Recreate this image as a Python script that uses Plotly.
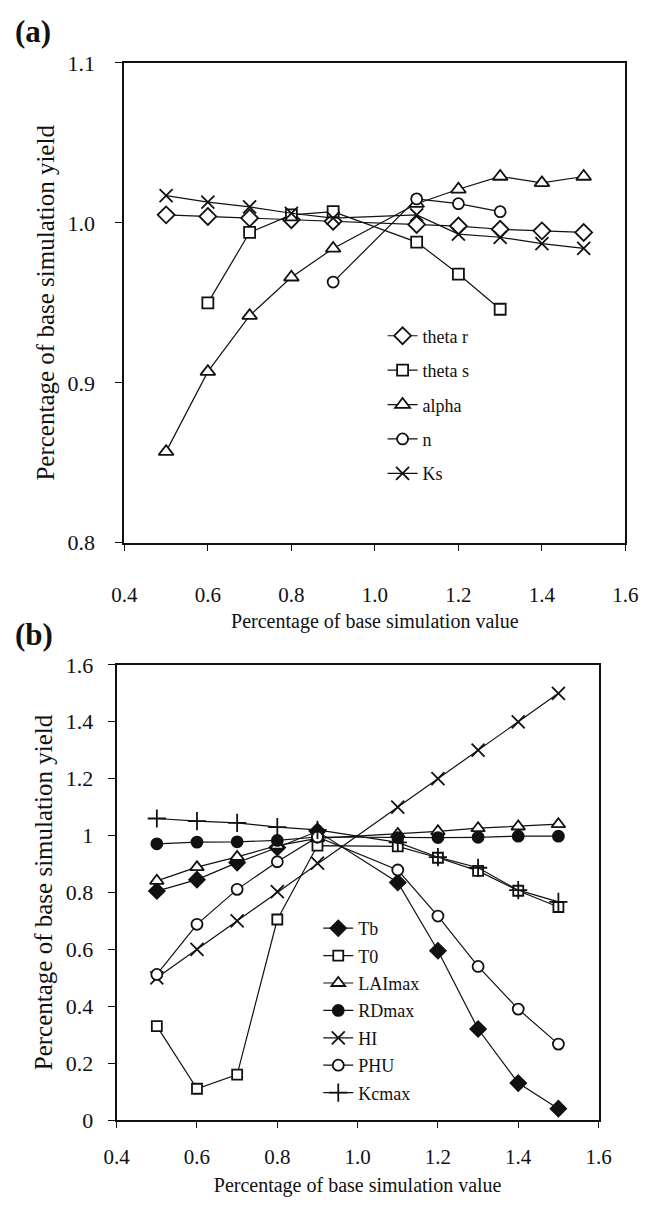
import plotly.graph_objects as go

# ---------------- data ----------------
x_a = [0.5, 0.6, 0.7, 0.8, 0.9, 1.1, 1.2, 1.3, 1.4, 1.5]
theta_r = [1.005, 1.004, 1.003, 1.002, 1.001, 0.999, 0.998, 0.996, 0.995, 0.994]
x_theta_s = [0.6, 0.7, 0.8, 0.9, 1.1, 1.2, 1.3]
theta_s = [0.950, 0.994, 1.005, 1.007, 0.988, 0.968, 0.946]
alpha = [0.857, 0.907, 0.942, 0.966, 0.984, 1.012, 1.021, 1.029, 1.025, 1.029]
x_n = [0.9, 1.1, 1.2, 1.3]
n_vals = [0.963, 1.015, 1.012, 1.007]
Ks = [1.017, 1.013, 1.010, 1.006, 1.003, 1.005, 0.993, 0.991, 0.987, 0.984]

x_b = [0.5, 0.6, 0.7, 0.8, 0.9, 1.1, 1.2, 1.3, 1.4, 1.5]
Tb = [0.805, 0.845, 0.905, 0.958, 1.015, 0.835, 0.595, 0.320, 0.130, 0.040]
T0 = [0.330, 0.110, 0.160, 0.705, 0.965, 0.962, 0.922, 0.876, 0.806, 0.749]
LAImax = [0.841, 0.889, 0.925, 0.965, 0.990, 1.006, 1.015, 1.026, 1.032, 1.040]
RDmax = [0.971, 0.977, 0.978, 0.983, 0.995, 0.993, 0.993, 0.994, 0.998, 0.998]
HI = [0.500, 0.600, 0.700, 0.803, 0.903, 1.100, 1.200, 1.300, 1.400, 1.500]
PHU = [0.512, 0.688, 0.811, 0.908, 0.995, 0.879, 0.717, 0.540, 0.390, 0.267]
Kcmax = [1.060, 1.051, 1.045, 1.030, 1.020, 0.976, 0.924, 0.887, 0.808, 0.767]

x_ticks = [0.4, 0.6, 0.8, 1.0, 1.2, 1.4, 1.6]
y_ticks_a = [0.8, 0.9, 1.0, 1.1]
y_ticks_b = [0, 0.2, 0.4, 0.6, 0.8, 1.0, 1.2, 1.4, 1.6]

# ---------------- styling ----------------
W, H = 649, 1207
FONT = "Liberation Serif"
BLACK = "#111111"

fig = go.Figure()

def add(x, y, name, symbol, size, xa, ya, legend, fill="white"):
    fig.add_trace(go.Scatter(
        x=x, y=y, name=name, mode="lines+markers",
        xaxis=xa, yaxis=ya, legend=legend,
        line=dict(color=BLACK, width=1.2),
        marker=dict(symbol=symbol, size=size, color=fill,
                    line=dict(color=BLACK, width=1.8)),
        legendgroup=name,
    ))

# panel (a)
add(x_a, theta_r, "theta r", "diamond", 13, "x", "y", "legend")
add(x_theta_s, theta_s, "theta s", "square", 11, "x", "y", "legend")
add(x_a, alpha, "alpha", "triangle-up", 13, "x", "y", "legend")
add(x_n, n_vals, "n", "circle", 11, "x", "y", "legend")
add(x_a, Ks, "Ks", "x-thin", 13, "x", "y", "legend", fill=BLACK)

# panel (b)
add(x_b, Tb, "Tb", "diamond", 12, "x2", "y2", "legend2", fill=BLACK)
add(x_b, T0, "T0", "square", 10, "x2", "y2", "legend2")
add(x_b, LAImax, "LAImax", "triangle-up", 12, "x2", "y2", "legend2")
add(x_b, RDmax, "RDmax", "circle", 11, "x2", "y2", "legend2", fill=BLACK)
add(x_b, HI, "HI", "x-thin", 13, "x2", "y2", "legend2", fill=BLACK)
add(x_b, PHU, "PHU", "circle", 11, "x2", "y2", "legend2")
add(x_b, Kcmax, "Kcmax", "cross-thin", 13, "x2", "y2", "legend2", fill=BLACK)

xtickfont = dict(family=FONT, size=21, color=BLACK)
ytickfont = dict(family=FONT, size=22, color=BLACK)
xtitlefont = dict(family=FONT, size=20, color=BLACK)
ytitlefont = dict(family=FONT, size=25, color=BLACK)

def xaxis(domain, anchor, standoff_lbl, standoff_title):
    return dict(domain=domain, anchor=anchor, range=[0.4, 1.6],
                tickvals=x_ticks, ticktext=[f"{v:.1f}" for v in x_ticks],
                ticks="outside", ticklen=6, tickwidth=1.2, tickcolor=BLACK,
                ticklabelstandoff=standoff_lbl,
                showline=True, linecolor=BLACK, linewidth=2, mirror=True,
                showgrid=False, zeroline=False, tickfont=xtickfont,
                title=dict(text="Percentage of base simulation value",
                           font=xtitlefont, standoff=standoff_title))

def yaxis(domain, anchor, rng, vals, texts, standoff_lbl):
    return dict(domain=domain, anchor=anchor, range=rng,
                tickvals=vals, ticktext=texts,
                ticks="outside", ticklen=7, tickwidth=1.2, tickcolor=BLACK,
                ticklabelstandoff=standoff_lbl,
                showline=True, linecolor=BLACK, linewidth=2, mirror=True,
                showgrid=False, zeroline=False, tickfont=ytickfont,
                title=dict(text="Percentage of base simulation yield",
                           font=ytitlefont, standoff=6))

ax_a = (116 / W, 638 / W)
ay_a = (1 - 542 / H, 1 - 52 / H)
ax_b = (108 / W, 610 / W)
ay_b = (1 - 1131.5 / H, 1 - 666.7 / H)

fmt_b = ["0" if v == 0 else ("1" if v == 1.0 else f"{v:g}") for v in y_ticks_b]

fig.update_layout(
    width=W, height=H,
    margin=dict(l=0, r=0, t=0, b=0),
    paper_bgcolor="white", plot_bgcolor="white",
    font=dict(family=FONT, color=BLACK),
    xaxis=xaxis(ax_a, "y", 26, 8),
    yaxis=yaxis(ay_a, "x", [0.8, 1.1], y_ticks_a,
                [f"{v:.1f}" for v in y_ticks_a], 16),
    xaxis2=xaxis(ax_b, "y2", 11, 10),
    yaxis2=yaxis(ay_b, "x2", [0, 1.6], y_ticks_b, fmt_b, 10),
    legend=dict(x=385 / W, y=1 - 312 / H, xanchor="left", yanchor="top",
                bgcolor="rgba(0,0,0,0)", font=dict(family=FONT, size=18, color=BLACK),
                tracegroupgap=8, itemwidth=30),
    legend2=dict(x=318 / W, y=1 - 917 / H, xanchor="left", yanchor="top",
                 bgcolor="rgba(0,0,0,0)", font=dict(family=FONT, size=18, color=BLACK),
                 tracegroupgap=1, itemwidth=30),
    showlegend=True,
    annotations=[
        dict(text="<b>(a)</b>", x=0 / W, y=1 - 0 / H, xref="paper", yref="paper",
             xanchor="left", yanchor="top", showarrow=False,
             font=dict(family=FONT, size=31, color=BLACK)),
        dict(text="<b>(b)</b>", x=0 / W, y=1 - 616 / H, xref="paper", yref="paper",
             xanchor="left", yanchor="top", showarrow=False,
             font=dict(family=FONT, size=31, color=BLACK)),
    ],
)

fig.write_html("out.html")
